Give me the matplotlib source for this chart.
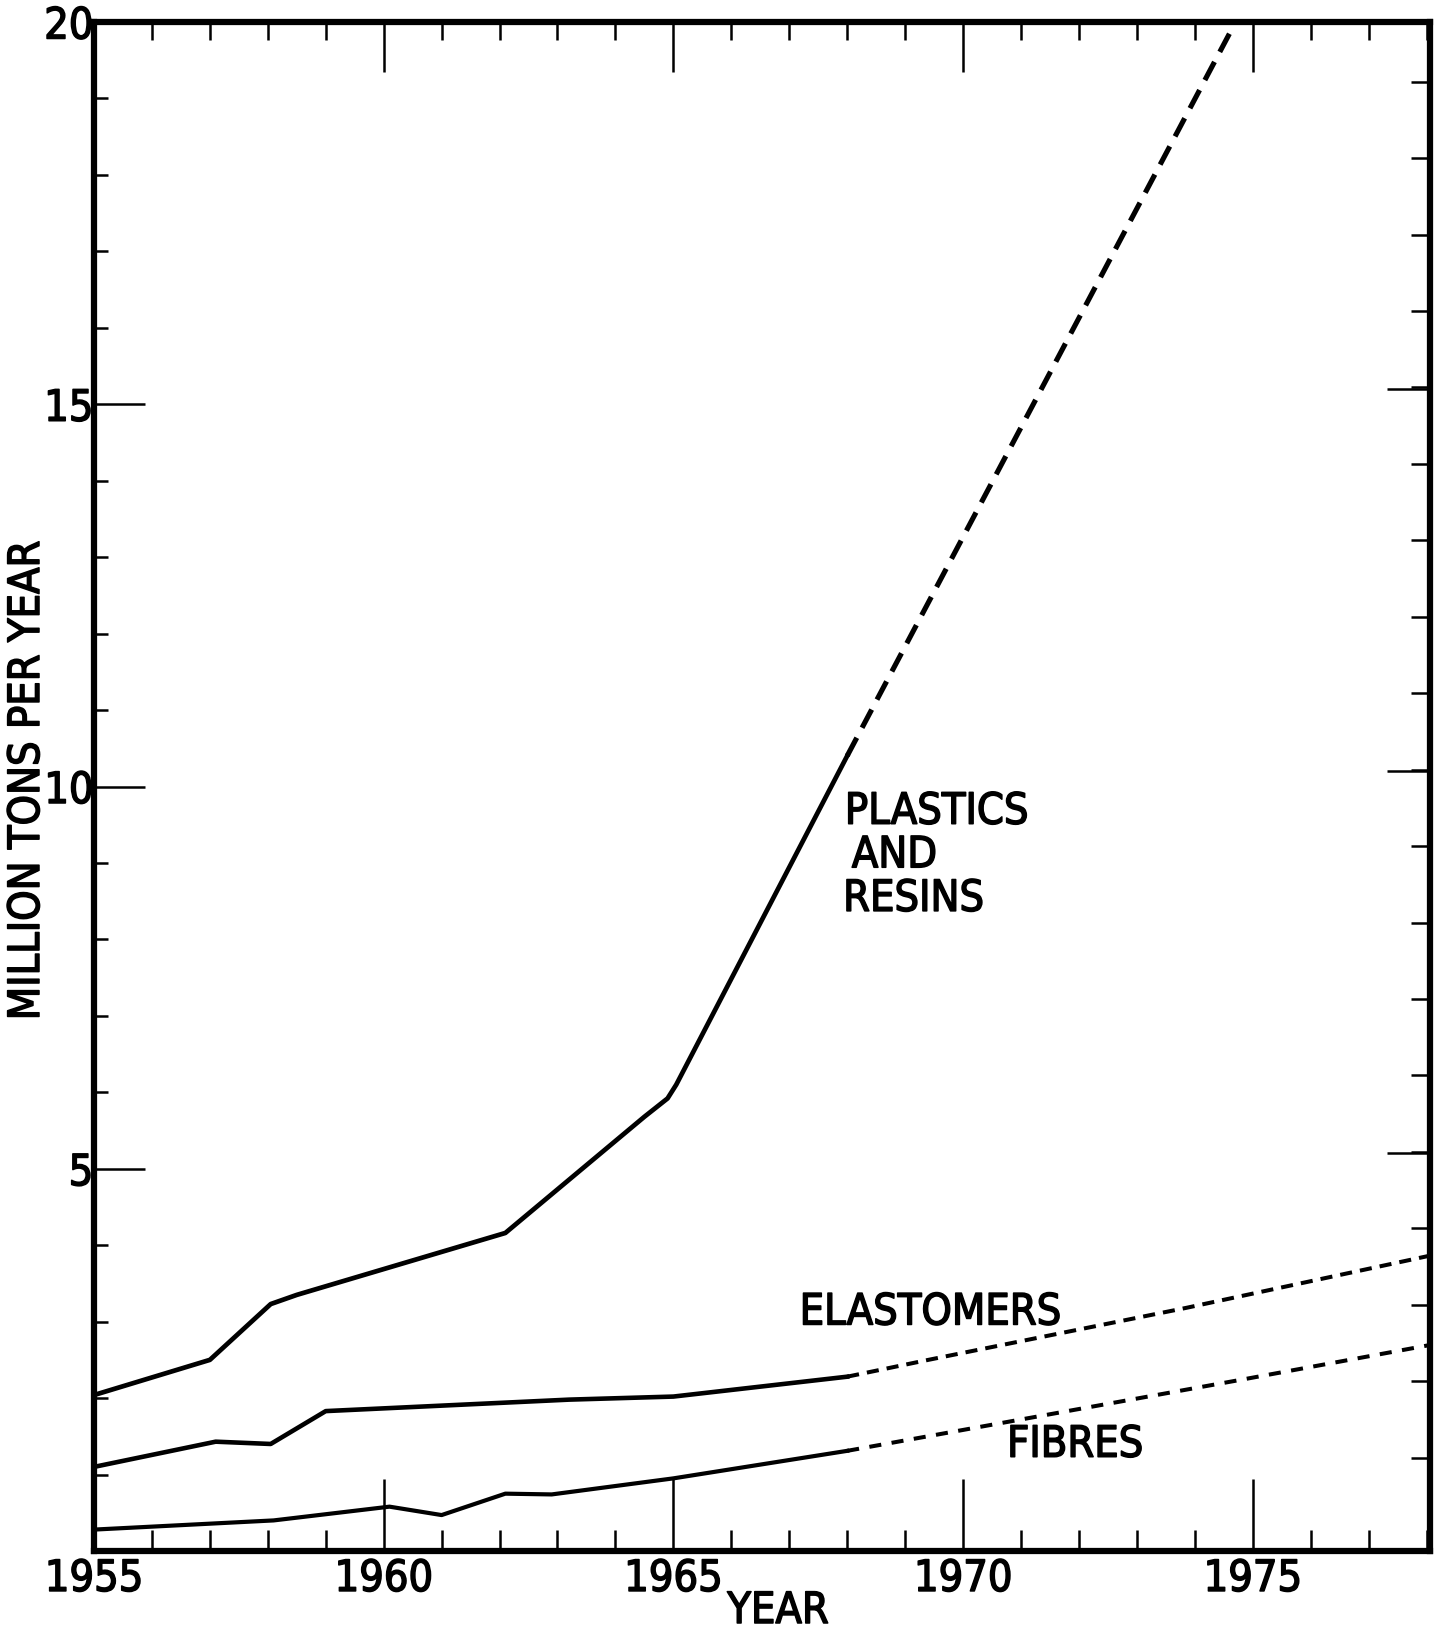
import numpy as np
import matplotlib.pyplot as plt
import matplotlib.patheffects as pe
from matplotlib import font_manager
from matplotlib.ticker import MultipleLocator

#font: look for a narrow sans close to the lettering of the original
font_path = None
for wanted in ['LiberationSansNarrow-Regular', 'DejaVuSansCondensed.ttf']:
    for f in font_manager.fontManager.ttflist:
        if wanted in f.fname:
            font_path = f.fname
            break
    if font_path:
        break
if font_path:
    font_manager.fontManager.addfont(font_path)
    fname = font_manager.FontProperties(fname=font_path).get_name()
    plt.rcParams['font.family'] = [fname, 'Liberation Sans', 'DejaVu Sans']
    if 'Condensed' in font_path:
        plt.rcParams['font.stretch'] = 'condensed'
else:
    plt.rcParams['font.family'] = ['Liberation Sans', 'DejaVu Sans']

#slightly heavier strokes, like the stencil lettering
thick = [pe.withStroke(linewidth=1.1, foreground='k')]

########################################################################
### data ###
########################################################################

#plastics and resins, recorded (solid) and projected (dashed)
plastics_years = [1955, 1957.0, 1958.05, 1958.5, 1962.1, 1964.5, 1964.9, 1965.05, 1968.0]
plastics_vals = [2.04, 2.50, 3.23, 3.35, 4.16, 5.68, 5.92, 6.10, 10.40]
plastics_proj_years = [1968.0, 1974.6]
plastics_proj_vals = [10.40, 19.85]

#elastomers
elast_years = [1955, 1957.1, 1958.05, 1959.0, 1963.2, 1965.0, 1968.0]
elast_vals = [1.10, 1.43, 1.40, 1.83, 1.98, 2.02, 2.28]
elast_proj_years = [1968.0, 1969.4, 1973.85, 1978.1]
elast_proj_vals = [2.28, 2.50, 3.18, 3.87]

#fibres
fibres_years = [1955, 1958.1, 1960.1, 1961.0, 1962.1, 1962.9, 1965.0, 1968.0]
fibres_vals = [0.28, 0.40, 0.58, 0.47, 0.75, 0.74, 0.95, 1.31]
fibres_proj_years = [1968.0, 1974.8, 1978.1]
fibres_proj_vals = [1.31, 2.24, 2.70]

#axis labels
year_ticks = [1955, 1960, 1965, 1970, 1975]
value_ticks = [5, 10, 15, 20]

########################################################################
### figure ###
########################################################################

W, H = 1435, 1631
fig = plt.figure(figsize=(W / 100, H / 100), dpi=100)
ax = fig.add_axes([94 / W, 1 - 1552 / H, (1430 - 94) / W, (1552 - 23) / H])

ax.set_xlim(1955, 1978.06)
ax.set_ylim(0, 20)

#curves
ax.plot(plastics_years, plastics_vals, color='k', lw=3.4)
ax.plot(plastics_proj_years, plastics_proj_vals, color='k', lw=3.7, dashes=(4, 2.2))
ax.plot(elast_years, elast_vals, color='k', lw=3.3)
ax.plot(elast_proj_years, elast_proj_vals, color='k', lw=2.9, dashes=(3.0, 2.0))
ax.plot(fibres_years, fibres_vals, color='k', lw=3.0)
ax.plot(fibres_proj_years, fibres_proj_vals, color='k', lw=2.9, dashes=(3.0, 2.6))

#labels of the curves
fs = 31
for x, y, s in [(1967.96, 9.67, 'PLASTICS'), (1968.08, 9.10, 'AND'),
                (1967.93, 8.53, 'RESINS'), (1967.18, 3.12, 'ELASTOMERS'),
                (1970.76, 1.39, 'FIBRES')]:
    ax.text(x, y, s, fontsize=fs, ha='left', va='center', path_effects=thick)

#frame
for s in ax.spines.values():
    s.set_linewidth(4.5)

#bottom and left ticks
ax.set_xticks(year_ticks)
ax.set_xticklabels([str(y) for y in year_ticks])
ax.xaxis.set_minor_locator(MultipleLocator(1))
ax.set_yticks(value_ticks)
ax.set_yticklabels([str(v) for v in value_ticks])
ax.yaxis.set_minor_locator(MultipleLocator(1))
ax.tick_params(axis='x', which='major', direction='in', length=52, width=1.8,
               labelsize=fs, pad=5)
ax.tick_params(axis='x', which='minor', direction='in', length=15, width=1.8)
ax.tick_params(axis='y', which='major', direction='in', length=37, width=1.8,
               labelsize=fs, pad=0.5)
ax.tick_params(axis='y', which='minor', direction='in', length=10, width=1.8)
for lab in ax.get_xticklabels() + ax.get_yticklabels():
    lab.set_path_effects(thick)

#top ticks
top = ax.secondary_xaxis('top')
top.set_xticks(year_ticks)
top.xaxis.set_minor_locator(MultipleLocator(1))
top.tick_params(which='major', direction='in', length=36, width=1.8, labeltop=False)
top.tick_params(which='minor', direction='in', length=13, width=1.8)
top.spines['top'].set_visible(False)

#right ticks (hand drawn slightly above the left ones)
right = ax.secondary_yaxis('right')
right.set_yticks([5.2, 10.2, 15.2])
right.set_yticks(np.arange(1.22, 20, 1), minor=True)
right.tick_params(which='major', direction='in', length=31, width=1.8, labelright=False)
right.tick_params(which='minor', direction='in', length=14, width=1.8)
right.spines['right'].set_visible(False)

#axis titles
fig.text(778 / W, 1 - 1612 / H, 'YEAR', fontsize=fs, ha='center', va='center',
         path_effects=thick)
fig.text(27 / W, 1 - 782 / H, 'MILLION TONS PER YEAR', fontsize=fs,
         ha='center', va='center', rotation=90, path_effects=thick)

fig.savefig('out.png', dpi=100, facecolor='white')
